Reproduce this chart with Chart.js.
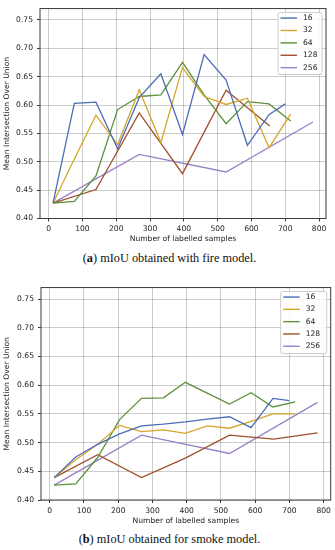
<!DOCTYPE html>
<html>
<head>
<meta charset="utf-8">
<script src="https://cdn.jsdelivr.net/npm/chart.js@4.4.1/dist/chart.umd.min.js"></script>
<style>
  body { margin: 0; background: #fff; width: 335px; height: 550px; position: relative; overflow: hidden; }
  canvas { position: absolute; left: 0; }
  .cap { position: absolute; left: 2px; width: 335px; text-align: center; font-family: "Liberation Serif", "DejaVu Serif", serif; font-size: 12.3px; line-height: 14px; color: #111; }
</style>
</head>
<body>
<canvas id="fireChart" width="335" height="244" style="top:0px"></canvas>
<div class="cap" style="top:250.5px">(<b>a</b>) mIoU obtained with fire model.</div>
<canvas id="smokeChart" width="335" height="247" style="top:279px"></canvas>
<div class="cap" style="top:532px">(<b>b</b>) mIoU obtained for smoke model.</div>
<script>
// axis ticks
const xTicks = [0, 100, 200, 300, 400, 500, 600, 700, 800];
const yTicks = [0.40, 0.45, 0.50, 0.55, 0.60, 0.65, 0.70, 0.75];
const seriesNames = ["16", "32", "64", "128", "256"];
const seriesColors = ["#4c6db5", "#d6a62a", "#5c913b", "#9e4f2c", "#9880c8"];

// fire model
const fire16X = [13, 76, 140, 204, 268, 332, 396, 460, 525, 588, 652, 700];
const fire16Y = [0.427, 0.603, 0.605, 0.523, 0.613, 0.655, 0.548, 0.689, 0.644, 0.529, 0.583, 0.602];
const fire32X = [13, 76, 140, 204, 268, 332, 396, 460, 525, 588, 652, 716];
const fire32Y = [0.427, 0.505, 0.582, 0.530, 0.627, 0.534, 0.666, 0.615, 0.601, 0.612, 0.525, 0.584];
const fire64X = [13, 76, 140, 204, 268, 332, 396, 460, 525, 588, 652, 716];
const fire64Y = [0.427, 0.430, 0.475, 0.592, 0.615, 0.618, 0.675, 0.618, 0.567, 0.606, 0.602, 0.572];
const fire128X = [13, 140, 268, 396, 525, 654];
const fire128Y = [0.427, 0.451, 0.586, 0.479, 0.626, 0.563];
const fire256X = [13, 268, 525, 782];
const fire256Y = [0.427, 0.513, 0.482, 0.570];

// smoke model
const smoke16X = [13, 76, 140, 204, 268, 332, 396, 460, 525, 588, 652, 700];
const smoke16Y = [0.439, 0.475, 0.497, 0.515, 0.529, 0.532, 0.536, 0.541, 0.545, 0.526, 0.577, 0.573];
const smoke32X = [13, 76, 140, 204, 268, 332, 396, 460, 525, 588, 652, 716];
const smoke32Y = [0.439, 0.470, 0.497, 0.530, 0.519, 0.522, 0.516, 0.529, 0.525, 0.537, 0.550, 0.550];
const smoke64X = [13, 76, 140, 204, 268, 332, 396, 460, 525, 588, 652, 716];
const smoke64Y = [0.426, 0.428, 0.474, 0.540, 0.577, 0.578, 0.605, 0.586, 0.567, 0.587, 0.562, 0.571];
const smoke128X = [13, 140, 268, 396, 525, 654, 782];
const smoke128Y = [0.439, 0.479, 0.439, 0.473, 0.513, 0.506, 0.517];
const smoke256X = [13, 268, 525, 782];
const smoke256Y = [0.426, 0.513, 0.481, 0.570];

const tickFont = { family: "DejaVu Sans", size: 7.6 };

// box around the plot, like matplotlib spines
const framePlugin = {
  id: "frame",
  afterDraw(chart) {
    const { ctx, chartArea: a } = chart;
    ctx.save();
    ctx.strokeStyle = "#3a3a3a";
    ctx.lineWidth = 1;
    ctx.strokeRect(a.left, a.top, a.right - a.left, a.bottom - a.top);
    ctx.restore();
  }
};

// legend box in the upper right corner
const boxLegend = {
  id: "boxLegend",
  afterDraw(chart, args, opts) {
    const { ctx, chartArea: a } = chart;
    const w = opts.width, h = opts.height;
    const left = a.right - 4 - w, top = a.top + 4;
    ctx.save();
    ctx.fillStyle = "rgba(255,255,255,0.85)";
    ctx.strokeStyle = "#cccccc";
    ctx.lineWidth = 1;
    ctx.beginPath();
    ctx.roundRect(left, top, w, h, 2);
    ctx.fill();
    ctx.stroke();
    ctx.font = "7.6px 'DejaVu Sans'";
    ctx.textBaseline = "middle";
    chart.data.datasets.forEach((ds, i) => {
      const y = top + 5.5 + i * opts.step;
      ctx.strokeStyle = ds.borderColor;
      ctx.lineWidth = 1.4;
      ctx.beginPath();
      ctx.moveTo(left + 2.5, y);
      ctx.lineTo(left + 19, y);
      ctx.stroke();
      ctx.fillStyle = "#222";
      ctx.fillText(ds.label, left + 25, y);
    });
    ctx.restore();
  }
};

function makeChart(id, xs, ys, layout) {
  const ctx = document.getElementById(id).getContext("2d");
  const datasets = seriesNames.map((name, i) => ({
    label: name,
    data: xs[i].map((x, j) => ({ x: x, y: ys[i][j] })),
    borderColor: seriesColors[i],
    backgroundColor: seriesColors[i],
    borderWidth: 1.3,
    pointRadius: 0,
    tension: 0,
    fill: false
  }));

  return new Chart(ctx, {
    type: "line",
    data: { datasets: datasets },
    options: {
      responsive: false,
      animation: false,
      layout: { padding: layout.padding },
      plugins: {
        legend: { display: false },
        tooltip: { enabled: false },
        boxLegend: layout.legend
      },
      scales: {
        x: {
          type: "linear",
          min: -25.5,
          max: 820.5,
          afterBuildTicks: (s) => { s.ticks = xTicks.map((v) => ({ value: v })); },
          afterFit: (s) => { s.height = layout.xHeight; },
          ticks: { font: tickFont, color: "#222", padding: 3, maxRotation: 0, autoSkip: false },
          grid: { color: "rgba(0,0,0,0.2)", lineWidth: 1, tickLength: 3, tickColor: "#3a3a3a" },
          border: { display: false },
          title: { display: true, text: "Number of labelled samples", font: tickFont, color: "#222", padding: { top: 0, bottom: 0 } }
        },
        y: {
          min: 0.40,
          max: 0.77,
          afterBuildTicks: (s) => { s.ticks = yTicks.map((v) => ({ value: v })); },
          afterFit: (s) => { s.width = layout.yWidth; },
          ticks: { font: tickFont, color: "#222", padding: 4, callback: (v) => v.toFixed(2) },
          grid: { color: "rgba(0,0,0,0.2)", lineWidth: 1, tickLength: 3, tickColor: "#3a3a3a" },
          border: { display: false },
          title: { display: true, text: "Mean Intersection Over Union", font: tickFont, color: "#222", padding: { top: 2, bottom: 0 } }
        }
      }
    },
    plugins: [framePlugin, boxLegend]
  });
}

makeChart("fireChart",
  [fire16X, fire32X, fire64X, fire128X, fire256X],
  [fire16Y, fire32Y, fire64Y, fire128Y, fire256Y],
  { padding: { top: 6, right: 9, left: 0, bottom: 0 }, xHeight: 25.5, yWidth: 40,
    legend: { width: 44, height: 62, step: 12.4 } });

makeChart("smokeChart",
  [smoke16X, smoke32X, smoke64X, smoke128X, smoke256X],
  [smoke16Y, smoke32Y, smoke64Y, smoke128Y, smoke256Y],
  { padding: { top: 6.3, right: 4.3, left: 0, bottom: 0 }, xHeight: 26, yWidth: 41,
    legend: { width: 46, height: 62, step: 12.3 } });
</script>
</body>
</html>
